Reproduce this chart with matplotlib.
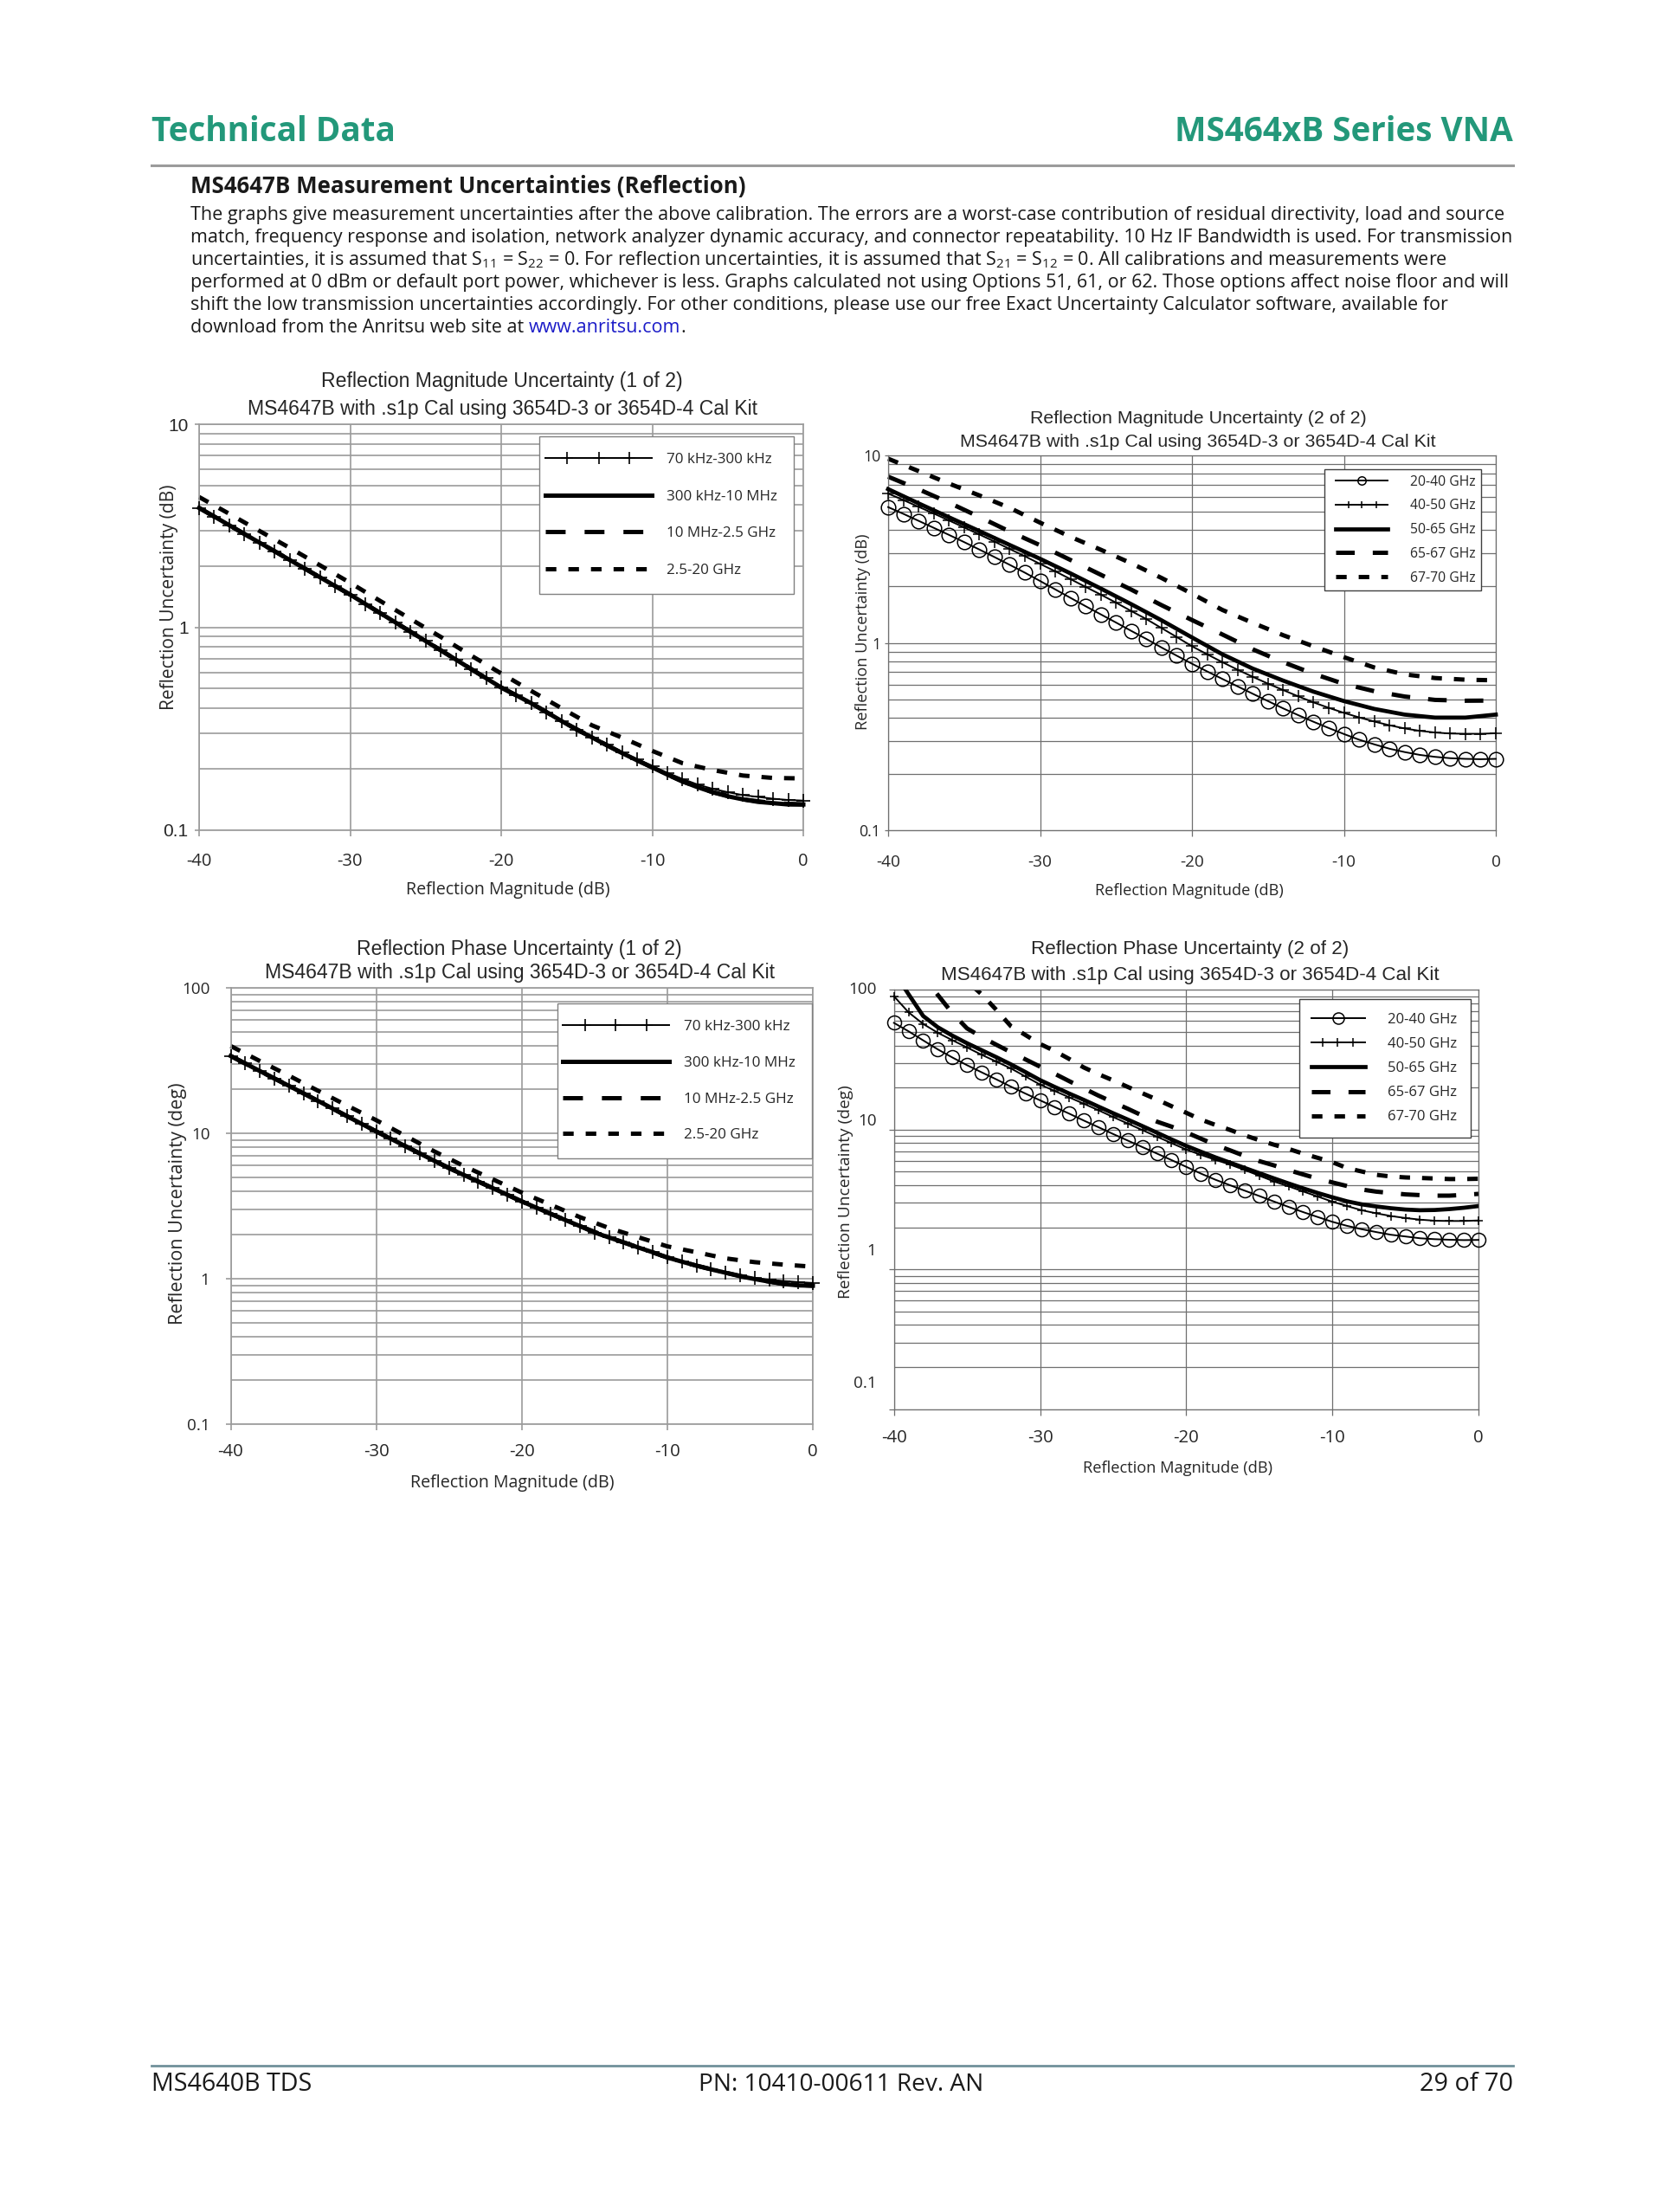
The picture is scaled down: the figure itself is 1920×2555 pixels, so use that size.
import numpy as np
import matplotlib
matplotlib.use("Agg")
import matplotlib.pyplot as plt
from matplotlib.lines import Line2D
from matplotlib.legend_handler import HandlerLine2D
from matplotlib.ticker import LogLocator, NullFormatter

# ------------------------------------------------------------------ data
X_1DB = np.arange(-40, 1, 1)
X_2DB = np.arange(-40, 1, 2)
XTICKS = [-40, -30, -20, -10, 0]
XTICK_LABELS = ['-40', '-30', '-20', '-10', '0']

LEG_LOW = ['70 kHz-300 kHz', '300 kHz-10 MHz', '10 MHz-2.5 GHz', '2.5-20 GHz']
LEG_HIGH = ['20-40 GHz', '40-50 GHz', '50-65 GHz', '65-67 GHz', '67-70 GHz']

# Reflection magnitude uncertainty (1 of 2), dB
MAG1_70K = [3.87, 3.51, 3.18, 2.88, 2.61, 2.37, 2.145, 1.945, 1.763, 1.597, 1.448,
            1.303, 1.173, 1.056, 0.950, 0.855, 0.770, 0.693, 0.623, 0.561, 0.505,
            0.462, 0.422, 0.382, 0.345, 0.313, 0.287, 0.264, 0.243, 0.224, 0.207,
            0.192, 0.179, 0.168, 0.160, 0.154, 0.149, 0.146, 0.143, 0.141, 0.140]
MAG1_300K = [3.87, 3.51, 3.18, 2.88, 2.61, 2.37, 2.145, 1.945, 1.763, 1.597, 1.448,
             1.303, 1.173, 1.056, 0.950, 0.855, 0.770, 0.693, 0.623, 0.561, 0.505,
             0.462, 0.422, 0.382, 0.345, 0.313, 0.287, 0.262, 0.240, 0.221, 0.204,
             0.188, 0.174, 0.163, 0.154, 0.147, 0.142, 0.138, 0.136, 0.134, 0.134]
MAG1_10M = [3.87, 3.18, 2.61, 2.145, 1.763, 1.448, 1.173, 0.950, 0.770, 0.623, 0.505,
            0.422, 0.345, 0.287, 0.240, 0.204, 0.174, 0.154, 0.142, 0.136, 0.134]
MAG1_25G = [4.38, 3.62, 2.98, 2.46, 2.02, 1.655, 1.346, 1.098, 0.896, 0.726, 0.592,
            0.485, 0.399, 0.329, 0.286, 0.246, 0.214, 0.198, 0.186, 0.181, 0.180]

# Reflection magnitude uncertainty (2 of 2), dB
MAG2_2040 = [5.30, 4.88, 4.48, 4.11, 3.77, 3.45, 3.15, 2.87, 2.61, 2.37, 2.14,
             1.93, 1.74, 1.57, 1.42, 1.285, 1.16, 1.05, 0.945, 0.855, 0.775,
             0.705, 0.643, 0.587, 0.536, 0.490, 0.448, 0.412, 0.380, 0.352, 0.327,
             0.305, 0.288, 0.273, 0.262, 0.253, 0.247, 0.243, 0.241, 0.240, 0.241]
MAG2_4050 = [6.26, 5.78, 5.32, 4.90, 4.50, 4.13, 3.79, 3.47, 3.17, 2.90, 2.64,
             2.41, 2.19, 1.99, 1.81, 1.64, 1.48, 1.34, 1.20, 1.075, 0.96,
             0.87, 0.79, 0.72, 0.66, 0.607, 0.561, 0.519, 0.482, 0.451, 0.424,
             0.401, 0.381, 0.364, 0.350, 0.340, 0.333, 0.329, 0.328, 0.328, 0.330]
MAG2_5065 = [6.61, 5.55, 4.68, 3.95, 3.33, 2.81, 2.35, 1.95, 1.61, 1.32, 1.07,
             0.87, 0.73, 0.63, 0.55, 0.49, 0.445, 0.415, 0.40, 0.40, 0.415]
MAG2_6567 = [7.70, 6.60, 5.60, 4.70, 3.93, 3.32, 2.77, 2.31, 1.925, 1.59, 1.325,
             1.11, 0.925, 0.79, 0.685, 0.605, 0.553, 0.518, 0.497, 0.492, 0.493]
MAG2_6770 = [9.6, 8.25, 7.08, 6.12, 5.25, 4.38, 3.68, 3.14, 2.66, 2.22, 1.83,
             1.50, 1.28, 1.10, 0.96, 0.84, 0.74, 0.68, 0.650, 0.637, 0.632]

# Reflection phase uncertainty (1 of 2), deg
PH1_70K = [34.0, 30.2, 26.8, 23.8, 21.2, 18.8, 16.7, 14.8, 13.1, 11.6, 10.3,
           9.17, 8.16, 7.26, 6.46, 5.75, 5.18, 4.66, 4.20, 3.78, 3.40,
           3.08, 2.79, 2.53, 2.30, 2.08, 1.92, 1.78, 1.64, 1.52, 1.40,
           1.31, 1.23, 1.16, 1.10, 1.05, 1.01, 0.985, 0.965, 0.948, 0.935]
PH1_300K = [34.0, 30.2, 26.8, 23.8, 21.2, 18.8, 16.7, 14.8, 13.1, 11.6, 10.3,
            9.17, 8.16, 7.26, 6.46, 5.75, 5.18, 4.66, 4.20, 3.78, 3.40,
            3.08, 2.79, 2.53, 2.30, 2.08, 1.92, 1.78, 1.64, 1.52, 1.40,
            1.31, 1.23, 1.16, 1.10, 1.04, 0.995, 0.955, 0.92, 0.90, 0.895]
PH1_10M = [34.0, 26.8, 21.2, 16.7, 13.1, 10.3, 8.16, 6.46, 5.18, 4.20, 3.40,
           2.79, 2.30, 1.92, 1.64, 1.40, 1.23, 1.10, 0.995, 0.92, 0.895]
PH1_25G = [39.8, 31.4, 24.9, 19.6, 15.5, 12.3, 9.61, 7.50, 5.97, 4.83, 3.91,
           3.22, 2.65, 2.23, 1.93, 1.67, 1.52, 1.38, 1.30, 1.25, 1.21]

# Reflection phase uncertainty (2 of 2), deg
PH2_2040 = [58, 50.5, 43.5, 37.5, 32.8, 28.9, 25.7, 22.9, 20.3, 18.1, 16.2,
            14.5, 13.0, 11.6, 10.4, 9.30, 8.35, 7.50, 6.74, 6.05, 5.42,
            4.85, 4.38, 4.00, 3.66, 3.35, 3.06, 2.80, 2.57, 2.37, 2.19,
            2.05, 1.94, 1.85, 1.77, 1.72, 1.67, 1.645, 1.63, 1.62, 1.625]
PH2_4050 = [90, 69, 57, 49.3, 43.6, 38.7, 34.3, 30.7, 27.4, 24.0, 21.0,
            18.9, 17.0, 15.3, 13.75, 12.3, 11.05, 9.92, 8.9, 8.0, 7.2,
            6.6, 6.08, 5.62, 5.14, 4.68, 4.26, 3.93, 3.61, 3.32, 3.05,
            2.84, 2.65, 2.52, 2.41, 2.33, 2.27, 2.23, 2.22, 2.22, 2.24]
PH2_5065 = [135, 93, 65, 54, 47, 41.5, 37.0, 33.0, 29.3, 25.8, 22.6,
            20.2, 18.1, 16.3, 14.6, 13.1, 11.8, 10.6, 9.50, 8.50, 7.65,
            6.95, 6.33, 5.80, 5.32, 4.88, 4.48, 4.12, 3.80, 3.52, 3.28,
            3.07, 2.92, 2.82, 2.74, 2.68, 2.65, 2.66, 2.70, 2.76, 2.84]
PH2_6567 = [250, 170, 125, 92, 68, 53, 46, 40.5, 35.8, 31.8, 28.2,
            25.1, 22.2, 19.7, 17.5, 15.7, 14.1, 12.6, 11.4, 10.5, 9.56,
            8.62, 7.78, 7.11, 6.48, 5.95, 5.55, 5.13, 4.78, 4.46, 4.19,
            3.95, 3.73, 3.60, 3.52, 3.44, 3.40, 3.37, 3.37, 3.41, 3.47]
PH2_6770 = [400, 300, 230, 175, 140, 115, 93, 72, 55, 47.5, 41.0,
            36.5, 32.0, 27.8, 24.9, 22.5, 20.2, 18.2, 16.4, 14.7, 13.2,
            11.8, 10.8, 9.95, 9.1, 8.40, 7.80, 7.28, 6.73, 6.28, 5.85,
            5.31, 5.02, 4.75, 4.62, 4.55, 4.51, 4.47, 4.43, 4.43, 4.45]

PARAGRAPH = [
    "The graphs give measurement uncertainties after the above calibration. The errors are a worst-case contribution of residual directivity, load and source",
    "match, frequency response and isolation, network analyzer dynamic accuracy, and connector repeatability. 10 Hz IF Bandwidth is used. For transmission",
    "uncertainties, it is assumed that S$_{11}$ = S$_{22}$ = 0. For reflection uncertainties, it is assumed that S$_{21}$ = S$_{12}$ = 0. All calibrations and measurements were",
    "performed at 0 dBm or default port power, whichever is less. Graphs calculated not using Options 51, 61, or 62. Those options affect noise floor and will",
    "shift the low transmission uncertainties accordingly. For other conditions, please use our free Exact Uncertainty Calculator software, available for",
]
PARA_LAST = "download from the Anritsu web site at"
LINK = "www.anritsu.com"

# ------------------------------------------------------------------ style
plt.rcParams['mathtext.fontset'] = 'custom'
plt.rcParams['mathtext.rm'] = 'Open Sans'
plt.rcParams['mathtext.it'] = 'Open Sans:italic'
plt.rcParams['mathtext.bf'] = 'Open Sans:bold'
plt.rcParams['axes.unicode_minus'] = False
plt.rcParams['lines.scale_dashes'] = False

PAGE_FONT = 'Open Sans'
TITLE_FONT = 'Liberation Sans'
CHART_FONT = 'Open Sans'
TEAL = '#23987a'
INK = '#1a1a1a'
CHART_INK = '#262626'

W, H, DPI = 1920, 2555, 100
fig = plt.figure(figsize=(W / DPI, H / DPI), dpi=DPI)
fig.patch.set_facecolor('white')
renderer = fig.canvas.get_renderer()


def fy(y):
    return 1 - y / H


def text_w(s, size, **kw):
    t = fig.text(0, 0, s, fontsize=size, **kw)
    w = t.get_window_extent(renderer=renderer).width
    t.remove()
    return w


def fit(s, target, **kw):
    return 20.0 * target / text_w(s, 20.0, **kw)


# ------------------------------------------------------------------ page header
hdr_fs = fit('MS464xB Series VNA', 390, family=PAGE_FONT, weight='bold')
fig.text(175 / W, fy(162.7), 'Technical Data', ha='left', va='baseline',
         fontsize=hdr_fs, family=PAGE_FONT, weight='bold', color=TEAL)
fig.text(1748 / W, fy(162.7), 'MS464xB Series VNA', ha='right', va='baseline',
         fontsize=hdr_fs, family=PAGE_FONT, weight='bold', color=TEAL)
fig.add_artist(Line2D([175 / W, 1748 / W], [fy(191)] * 2, transform=fig.transFigure,
                      color='#9b9b9b', lw=2.2))

sub = 'MS4647B Measurement Uncertainties (Reflection)'
sub_fs = fit(sub, 640, family=PAGE_FONT, weight='bold')
fig.text(220 / W, fy(222.7), sub, ha='left', va='baseline', fontsize=sub_fs,
         family=PAGE_FONT, weight='bold', color=INK)

para_fs = fit(PARAGRAPH[0], 1510, family=PAGE_FONT)
for i, line in enumerate(PARAGRAPH):
    fig.text(220 / W, fy(254.3 + 26 * i), line, ha='left', va='baseline',
             fontsize=para_fs, family=PAGE_FONT, color=INK)
bl = 254.3 + 26 * 5
fig.text(220 / W, fy(bl), PARA_LAST, ha='left', va='baseline', fontsize=para_fs,
         family=PAGE_FONT, color=INK)
x_link_end = 220 + text_w(PARA_LAST + ' ' + LINK, para_fs, family=PAGE_FONT)
x_line_end = 220 + text_w(PARA_LAST + ' ' + LINK + '.', para_fs, family=PAGE_FONT)
fig.text(x_link_end / W, fy(bl), LINK, ha='right', va='baseline', fontsize=para_fs,
         family=PAGE_FONT, color='#1c1cc8')
fig.text(x_line_end / W, fy(bl), '.', ha='right', va='baseline', fontsize=para_fs,
         family=PAGE_FONT, color=INK)

# ------------------------------------------------------------------ footer
fig.add_artist(Line2D([175 / W, 1748 / W], [fy(2386)] * 2, transform=fig.transFigure,
                      color='#70919a', lw=2.0))
foot_fs = fit('MS4640B TDS', 186, family=PAGE_FONT)
pn = 'PN: 10410-00611 Rev. AN'
pn_fs = 0.5 * (foot_fs + fit(pn, 322, family=PAGE_FONT))
fig.text(175 / W, fy(2415), 'MS4640B TDS', ha='left', va='baseline',
         fontsize=foot_fs, family=PAGE_FONT, color=INK)
fig.text(972 / W, fy(2415), pn, ha='center', va='baseline',
         fontsize=pn_fs, family=PAGE_FONT, color=INK)
fig.text(1748 / W, fy(2415), '29 of 70', ha='right', va='baseline',
         fontsize=foot_fs, family=PAGE_FONT, color=INK)


# ------------------------------------------------------------------ helpers
class SampleHandler(HandlerLine2D):
    """Legend sample: line starting 'lead' points into the handle box,
    optional markers at given fractions along the sample."""

    def __init__(self, lead=0.0, marks=(), ms=None, **kw):
        super().__init__(**kw)
        self.lead = lead
        self.marks = marks
        self.ms = ms

    def create_artists(self, legend, orig_handle, xdescent, ydescent,
                       width, height, fontsize, trans):
        x0 = -xdescent + self.lead
        x1 = -xdescent + width
        y = (height - ydescent) / 2
        line = Line2D([x0, x1], [y, y])
        self.update_prop(line, orig_handle, legend)
        line.set_marker('None')
        line.set_transform(trans)
        arts = [line]
        if self.marks:
            xm = [x0 + f * (x1 - x0) for f in self.marks]
            mk = Line2D(xm, [y] * len(xm))
            self.update_prop(mk, orig_handle, legend)
            mk.set_linestyle('None')
            if self.ms:
                mk.set_markersize(self.ms)
            mk.set_transform(trans)
            arts.append(mk)
        return arts


def make_axes(box, ylim, gcol, glw, yticks, ytlabels, ytick_font, ytick_fs,
              ytick_pad, ytick_len, xtick_fs, xtick_pad):
    l, t, r, b = box
    ax = fig.add_axes([l / W, 1 - b / H, (r - l) / W, (b - t) / H])
    ax.set_yscale('log')
    ax.set_xlim(-40, 0)
    ax.set_ylim(*ylim)
    ax.set_xticks(XTICKS)
    ax.set_xticklabels(XTICK_LABELS, family=CHART_FONT, fontsize=xtick_fs, color=CHART_INK)
    ax.set_yticks(yticks)
    ax.set_yticklabels(ytlabels, family=ytick_font, fontsize=ytick_fs, color=CHART_INK)
    ax.yaxis.set_minor_locator(LogLocator(base=10, subs=np.arange(2, 10), numticks=20))
    ax.yaxis.set_minor_formatter(NullFormatter())
    ax.grid(True, which='major', axis='both', color=gcol, lw=glw)
    ax.grid(True, which='minor', axis='y', color=gcol, lw=glw)
    ax.set_axisbelow(True)
    for s in ax.spines.values():
        s.set_color(gcol)
        s.set_linewidth(glw)
    ax.tick_params(which='minor', length=0)
    ax.tick_params(axis='y', which='major', direction='out', length=ytick_len,
                   pad=ytick_pad, color=gcol, width=glw)
    ax.tick_params(axis='x', which='major', direction='out', length=5,
                   pad=xtick_pad, color=gcol, width=glw)
    return ax


def chart_texts(ax, box, t1, t2, t_cx, t_y1, t_y2, t2_width,
                ylabel, xlab_w, xlab_pos, ylab_w, ylab_pos):
    l, t, r, b = box
    tfs = fit(t2, t2_width, family=TITLE_FONT)
    fig.text(t_cx / W, fy(t_y1), t1, ha='center', va='center', fontsize=tfs,
             family=TITLE_FONT, color=CHART_INK)
    fig.text(t_cx / W, fy(t_y2), t2, ha='center', va='center', fontsize=tfs,
             family=TITLE_FONT, color=CHART_INK)
    xl = 'Reflection Magnitude (dB)'
    xfs = fit(xl, xlab_w, family=CHART_FONT)
    ax.set_xlabel(xl, family=CHART_FONT, fontsize=xfs, color=CHART_INK)
    ax.xaxis.set_label_coords((xlab_pos[0] - l) / (r - l), (b - xlab_pos[1]) / (b - t))
    ax.xaxis.label.set_va('center')
    yfs = fit(ylabel, ylab_w, family=CHART_FONT)
    ax.set_ylabel(ylabel, family=CHART_FONT, fontsize=yfs, color=CHART_INK)
    ax.yaxis.set_label_coords((ylab_pos[0] - l) / (r - l), (b - ylab_pos[1]) / (b - t))
    ax.yaxis.label.set_va('center')


def add_legend(ax, lines, labels, handler_specs, frame_left, frame_top, row1_cc,
               pitch, hx0, hx1, text_x, label_w, edge):
    fs_pt = fit(labels[0], label_w, family=CHART_FONT)
    fs_px = fs_pt * DPI / 72
    b_px = (row1_cc - frame_top) - 0.403 * fs_px
    content_left = frame_left + b_px
    lead_pt = (hx0 - content_left) * 72 / DPI
    hmap = {}
    for ln, (marks, ms) in zip(lines, handler_specs):
        hmap[ln] = SampleHandler(lead=lead_pt, marks=marks, ms=ms)
    leg = ax.legend(lines, labels, loc='upper left',
                    bbox_to_anchor=(frame_left / W, fy(frame_top)),
                    bbox_transform=fig.transFigure, borderaxespad=0,
                    borderpad=b_px / fs_px, labelspacing=pitch / fs_px - 1.0,
                    handlelength=(hx1 - content_left) / fs_px,
                    handletextpad=(text_x - hx1) / fs_px, handleheight=0.7,
                    prop={'family': CHART_FONT, 'size': fs_pt},
                    frameon=True, fancybox=False, framealpha=1, shadow=False,
                    edgecolor=edge, handler_map=hmap)
    leg.get_frame().set_linewidth(1.0)
    for txt in leg.get_texts():
        txt.set_color(CHART_INK)
    return leg


LONG_DASH = (15.5, 15.0)
SHORT_DASH = (8.8, 10.0)

# ================================================================== chart 1
BOX1 = (230, 490, 928, 959)
ax1 = make_axes(BOX1, (0.1, 10), '#9b9b9b', 1.2, [0.1, 1, 10], ['0.1', '1', '10'],
                TITLE_FONT, 15, 5.4, 3.6, 14.5, 13.5)
l1a, = ax1.plot(X_1DB, MAG1_70K, color='black', lw=1.4, marker='+', ms=11, mew=1.2,
                clip_on=False, zorder=4)
l1b, = ax1.plot(X_1DB, MAG1_300K, color='black', lw=3.6, clip_on=False, zorder=3)
l1c, = ax1.plot(X_2DB, MAG1_10M, color='black', lw=3.6, dashes=(16.5, 15.8),
                clip_on=False, zorder=2)
l1d, = ax1.plot(X_2DB, MAG1_25G, color='black', lw=3.6, dashes=SHORT_DASH,
                clip_on=False, zorder=2)
chart_texts(ax1, BOX1, 'Reflection Magnitude Uncertainty (1 of 2)',
            'MS4647B with .s1p Cal using 3654D-3 or 3654D-4 Cal Kit',
            580, 440, 473, 592, 'Reflection Uncertainty (dB)',
            236, (587, 1028), 260, (195, 689.7))
add_legend(ax1, [l1a, l1b, l1c, l1d], LEG_LOW,
           [((0.203, 0.501, 0.786), 9.5), ((), None), ((), None), ((), None)],
           623.3, 504, 530, 43.5, 630, 753, 770, 122, '#808080')

# ================================================================== chart 2
BOX2 = (1026, 526, 1728, 959.3)
ax2 = make_axes(BOX2, (0.1, 10), '#6f6f6f', 0.9, [0.1, 1, 10], ['0.1', '1', '10'],
                CHART_FONT, 12.8, 3.2, 3.0, 13.7, 15)
l2a, = ax2.plot(X_1DB, MAG2_2040, color='black', lw=1.4, marker='o', ms=12,
                mfc='none', mew=1.1, clip_on=False, zorder=4)
l2b, = ax2.plot(X_1DB, MAG2_4050, color='black', lw=1.4, marker='+', ms=9.5,
                mew=1.1, clip_on=False, zorder=4)
l2c, = ax2.plot(X_2DB, MAG2_5065, color='black', lw=3.4, clip_on=False, zorder=3)
l2d, = ax2.plot(X_2DB, MAG2_6567, color='black', lw=3.6, dashes=LONG_DASH,
                clip_on=False, zorder=2)
l2e, = ax2.plot(X_2DB, MAG2_6770, color='black', lw=3.6, dashes=SHORT_DASH,
                clip_on=False, zorder=2)
chart_texts(ax2, BOX2, 'Reflection Magnitude Uncertainty (2 of 2)',
            'MS4647B with .s1p Cal using 3654D-3 or 3654D-4 Cal Kit',
            1384, 483.3, 510.5, 550, 'Reflection Uncertainty (dB)',
            217.5, (1374, 1028.7), 227, (997.5, 729.6))
add_legend(ax2, [l2a, l2b, l2c, l2d, l2e], LEG_HIGH,
           [((0.5,), 6.8), ((0.255, 0.505, 0.783), 6.0), ((), None), ((), None), ((), None)],
           1530, 542.3, 555, 27.5, 1543, 1603, 1629, 75.7, '#404040')

# ================================================================== chart 3
BOX3 = (266.5, 1141, 939, 1645)
ax3 = make_axes(BOX3, (0.1, 100), '#9b9b9b', 1.2, [0.1, 1, 10, 100],
                ['0.1', '1', '10', '100'], CHART_FONT, 13.6, 13, 4.3, 14.7, 10.5)
l3a, = ax3.plot(X_1DB, PH1_70K, color='black', lw=1.4, marker='+', ms=12, mew=1.2,
                clip_on=False, zorder=4)
l3b, = ax3.plot(X_1DB, PH1_300K, color='black', lw=3.6, clip_on=False, zorder=3)
l3c, = ax3.plot(X_2DB, PH1_10M, color='black', lw=3.6, dashes=(16.5, 15.8),
                clip_on=False, zorder=2)
l3d, = ax3.plot(X_2DB, PH1_25G, color='black', lw=3.6, dashes=SHORT_DASH,
                clip_on=False, zorder=2)
chart_texts(ax3, BOX3, 'Reflection Phase Uncertainty (1 of 2)',
            'MS4647B with .s1p Cal using 3654D-3 or 3654D-4 Cal Kit',
            600, 1096.5, 1123.6, 589.5, 'Reflection Uncertainty (deg)',
            235, (591.5, 1713), 279, (205, 1390.5))
add_legend(ax3, [l3a, l3b, l3c, l3d], LEG_LOW,
           [((0.216, 0.502, 0.788), 10), ((), None), ((), None), ((), None)],
           643.5, 1158.8, 1184.6, 43.0, 650, 772.5, 790, 122.5, '#808080')

# ================================================================== chart 4
BOX4 = (1032.7, 1143.3, 1708, 1627.7)
P2_YT = [0.1, 1, 10, 100]
P2_YT_LABELS = ['0.1', '1', '10', '100']
P2_YT_FRAC = [0.0623, 0.3763, 0.6877, 1.0]   # label positions as drawn in the source
ax4 = make_axes(BOX4, (0.1, 100), '#6f6f6f', 0.9, P2_YT, [''] * 4,
                CHART_FONT, 13.6, 3, 4.3, 14.7, 12)
for lab, fr in zip(P2_YT_LABELS, P2_YT_FRAC):
    ax4.text(-0.0299, fr, lab, transform=ax4.transAxes, ha='right', va='center',
             family=CHART_FONT, fontsize=13.6, color=CHART_INK)
l4a, = ax4.plot(X_1DB, PH2_2040, color='black', lw=1.4, marker='o', ms=11.5,
                mfc='none', mew=1.1, clip_on=False, zorder=4)
l4b, = ax4.plot(X_1DB, PH2_4050, color='black', lw=1.4, marker='+', ms=7.5,
                mew=1.1, clip_on=False, zorder=4)
l4c, = ax4.plot(X_1DB, PH2_5065, color='black', lw=3.4, zorder=3)
l4d, = ax4.plot(X_1DB, PH2_6567, color='black', lw=3.6, dashes=LONG_DASH, zorder=2)
l4e, = ax4.plot(X_1DB, PH2_6770, color='black', lw=3.6, dashes=SHORT_DASH, zorder=2)
chart_texts(ax4, BOX4, 'Reflection Phase Uncertainty (2 of 2)',
            'MS4647B with .s1p Cal using 3654D-3 or 3654D-4 Cal Kit',
            1375, 1096.7, 1126.7, 574, 'Reflection Uncertainty (deg)',
            218.5, (1360.7, 1696), 246, (977.5, 1376.7))
add_legend(ax4, [l4a, l4b, l4c, l4d, l4e], LEG_HIGH,
           [((0.5,), 9.4), ((0.216, 0.486, 0.78), 7.2), ((), None), ((), None), ((), None)],
           1500.7, 1154, 1176.7, 28.75, 1515, 1576.7, 1603.3, 80, '#404040')

fig.savefig('out.png', dpi=DPI, facecolor='white')
